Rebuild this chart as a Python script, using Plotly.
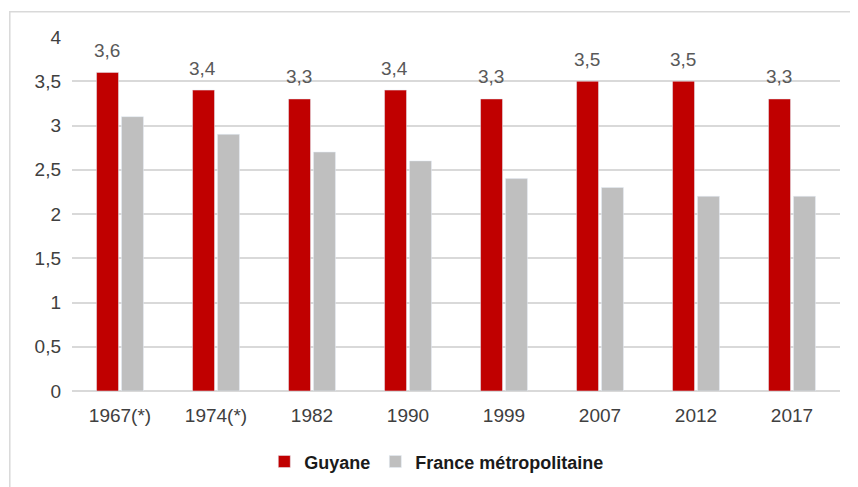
import plotly.graph_objects as go

# data
years = ["1967(*)", "1974(*)", "1982", "1990", "1999", "2007", "2012", "2017"]
guyane = [3.6, 3.4, 3.3, 3.4, 3.3, 3.5, 3.5, 3.3]
france_metro = [3.1, 2.9, 2.7, 2.6, 2.4, 2.3, 2.2, 2.2]
y_ticks = [0, 0.5, 1, 1.5, 2, 2.5, 3, 3.5, 4]

font_family = "Liberation Sans, DejaVu Sans, sans-serif"

fig = go.Figure()
fig.add_trace(go.Bar(x=years, y=guyane, name="Guyane", marker_color="#C00000"))
fig.add_trace(go.Bar(x=years, y=france_metro, name="France métropolitaine",
                     marker_color="#BFBFBF"))

# value labels above the red bars
for i, v in enumerate(guyane):
    fig.add_annotation(x=i - 0.14, y=v, text=f"{v:.1f}".replace(".", ","),
                       showarrow=False, yanchor="middle", yshift=22,
                       font=dict(size=19, color="#595959", family=font_family))

# chart frame
fig.add_shape(type="rect", xref="paper", yref="paper",
              x0=-0.081, x1=1.04, y0=-0.31, y1=1.071,
              line=dict(color="#D9D9D9", width=1.5), layer="below")

# page body adds ~8px offset, so the figure is a bit smaller than the window
fig.update_layout(
    width=850, height=479,
    margin=dict(l=64, r=18, t=29, b=96, autoexpand=False),
    paper_bgcolor="white", plot_bgcolor="white",
    separators=", ",
    barmode="group", bargap=0.48, bargroupgap=0.12,
    font=dict(family=font_family, size=15, color="#404040"),
    showlegend=True,
    legend=dict(orientation="h", x=0.475, xanchor="center",
                y=-0.2, yanchor="middle",
                font=dict(size=18, color="#1a1a1a", weight="bold")),
    xaxis=dict(showgrid=False, showline=False, ticks="", ticklabelstandoff=11,
               tickangle=0, tickfont=dict(size=19, color="#404040")),
    yaxis=dict(range=[0, 4], tickvals=y_ticks, showgrid=True,
               gridcolor="#D9D9D9", gridwidth=1.5, zeroline=True,
               zerolinecolor="#D9D9D9", zerolinewidth=1.5,
               ticks="", ticklabelstandoff=10,
               tickfont=dict(size=19, color="#404040")),
)

fig.write_html("out.html")
